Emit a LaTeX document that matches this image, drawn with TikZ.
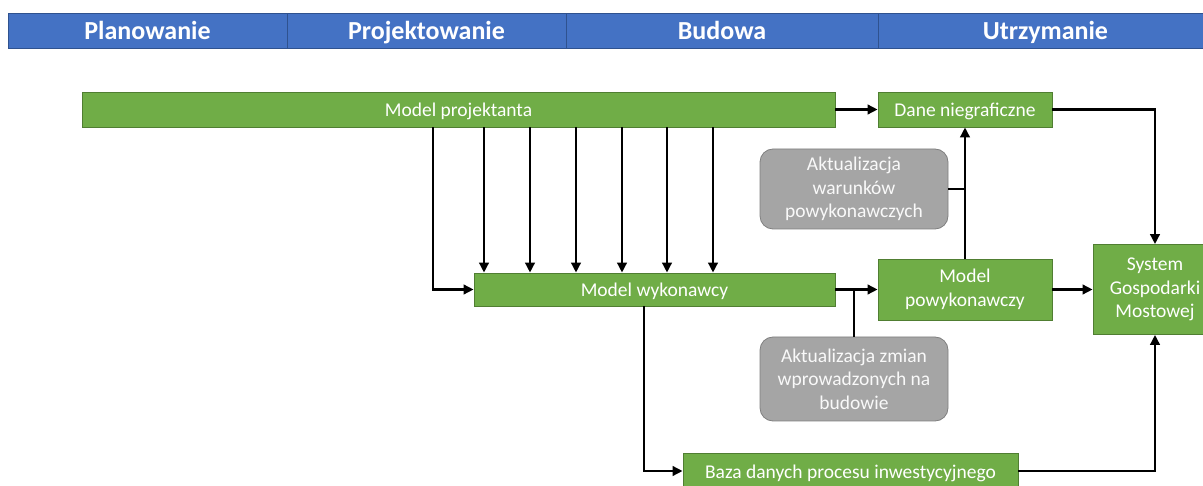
\documentclass[tikz,border=0pt]{standalone}
\usepackage{fontspec}
\setmainfont{Carlito}
\usetikzlibrary{arrows.meta}
\definecolor{hblue}{HTML}{4472C4}
\definecolor{hborder}{HTML}{2F528F}
\definecolor{bgreen}{HTML}{70AD47}
\definecolor{gborder}{HTML}{507E32}
\definecolor{bgray}{HTML}{A5A5A5}
\definecolor{grborder}{HTML}{7F7F7F}
\tikzset{
  hdr/.style={draw=hborder, line width=0.8pt, fill=hblue, text=white, font=\fontsize{26}{29}\selectfont\bfseries, minimum height=35pt, inner sep=0pt, text height=20pt, text depth=2pt},
  gbox/.style={draw=gborder, line width=0.8pt, fill=bgreen, text=white, font=\fontsize{19.5}{23.5}\selectfont, inner sep=0pt, align=center},
  one/.style={text height=16pt, text depth=2pt},
  rbox/.style={draw=grborder, line width=0.8pt, fill=bgray, text=white!95!gray, font=\fontsize{19.5}{23.5}\selectfont, inner sep=0pt, align=center, rounded corners=13pt},
  arr/.style={line width=2.4pt, -{Triangle[length=10pt,width=9.5pt]}},
  ln/.style={line width=2.4pt},
}
\begin{document}
\begin{tikzpicture}[x=1pt,y=-1pt]
\useasboundingbox (0,0) rectangle (1203,486);
% header
\node[hdr, minimum width=279pt] (h1) at (147.5,31) {Planowanie};
\node[hdr, minimum width=279pt] (h2) at (426.5,31) {Projektowanie};
\node[hdr, minimum width=312pt] (h3) at (722,31) {Budowa};
\node[hdr, minimum width=335pt] (h4) at (1045.5,31) {Utrzymanie};
% boxes
\node[gbox, one, minimum width=753pt, minimum height=35pt] (mp) at (458.5,109.5) {Model projektanta};
\node[gbox, one, minimum width=174pt, minimum height=35pt] (dn) at (965,109.5) {Dane niegraficzne};
\node[rbox, minimum width=188pt, minimum height=80pt] (aw) at (854,189) {Aktualizacja\\warunków\\powykonawczych};
\node[gbox, one, minimum width=361pt, minimum height=33pt] (mw) at (654.5,289.5) {Model wykonawcy};
\node[gbox, minimum width=174pt, minimum height=61pt] (mpw) at (965,289.5) {Model\\powykonawczy};
\node[gbox, minimum width=124pt, minimum height=90pt] (sgm) at (1155,289.5) {System\\Gospodarki\\Mostowej};
\node[rbox, minimum width=188pt, minimum height=84pt] (az) at (854,379) {Aktualizacja zmian\\wprowadzonych na\\budowie};
\node[gbox, one, minimum width=335pt, minimum height=36pt] (bd) at (850.5,471) {Baza danych procesu inwestycyjnego};
% connectors
\draw[arr] (mp.east) -- (dn.west);
\draw[arr] (mp.south -| 433,0) |- (mw.west);
\foreach \x in {484,530,576,622,667,713}
  \draw[arr] (mp.south -| \x,0) -- (mw.north -| \x,0);
\draw[arr] (mw.east) -- (mw.east -| mpw.west);
\draw[ln] (az.north) -- (az.north |- mw.east);
\draw[arr] (mpw.north) -- (dn.south);
\draw[ln] (aw.east) -- (aw.east -| mpw.north);
\draw[arr] (dn.east) -| (sgm.north);
\draw[arr] (mpw.east) -- (mpw.east -| sgm.west);
\draw[arr] (mw.south -| 644,0) |- (bd.west);
\draw[arr] (bd.east) -| (sgm.south);
\end{tikzpicture}
\end{document}
